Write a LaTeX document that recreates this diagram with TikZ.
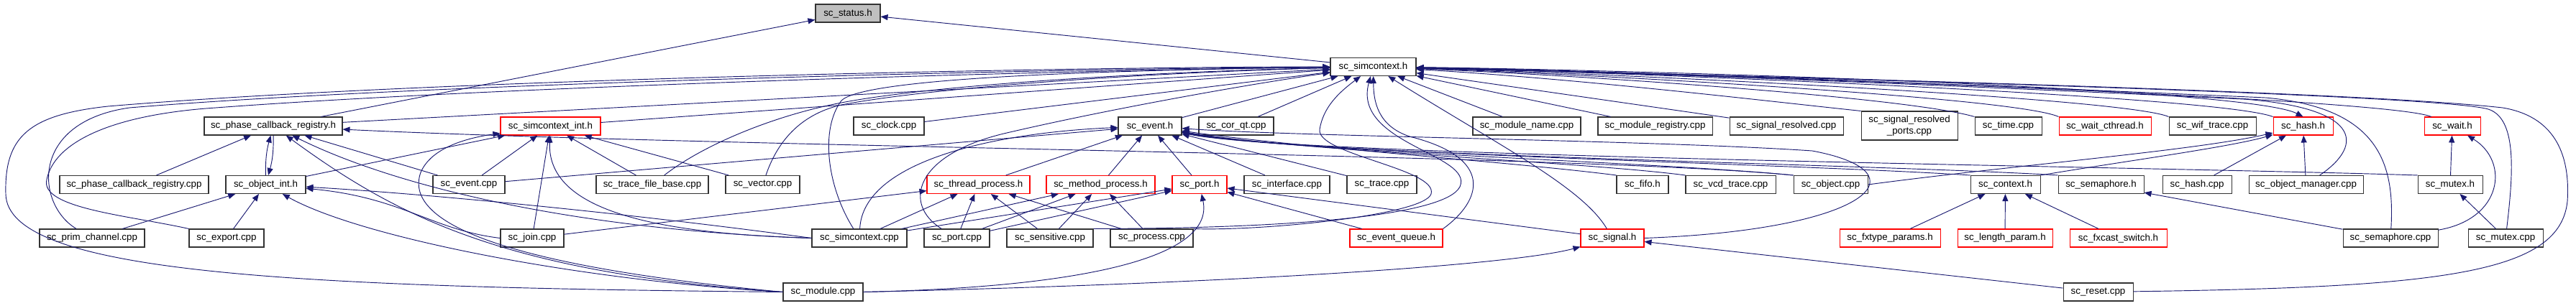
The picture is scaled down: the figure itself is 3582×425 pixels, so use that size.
\documentclass[tikz,border=0pt]{standalone}
\usepackage{fontspec}
\setmainfont{Liberation Sans}
\usepackage{xcolor}
\usepackage{tikz}
\usetikzlibrary{arrows.meta,positioning}
\definecolor{edgeblue}{HTML}{191970}
\definecolor{rootgray}{HTML}{BFBFBF}

\begin{document}
\begin{tikzpicture}[
    x=0.75pt,
    y=-0.75pt,
    file/.style={
        draw=black!80,
        line width=0.8pt,
        fill=white,
        inner sep=0pt,
        minimum height=18.75pt,
        font=\fontsize{10}{11.5}\selectfont
    },
    redfile/.style={file, draw=red},
    rootfile/.style={file, fill=rootgray},
    wd/.style={minimum width=#1*0.75pt},
    inc/.style={draw=edgeblue, line width=0.7pt, -{Triangle[length=7.5pt,width=6pt]}}
]
\useasboundingbox (0,0) rectangle (3582,425);

% root and first level
\node[rootfile, wd=90] (status_h) at (1179,18.5) {sc\_status.h};
\node[file, wd=119] (simcontext_h) at (1909.5,93) {sc\_simcontext.h};

% second row
\node[file, wd=192] (phase_h) at (380,175.5) {sc\_phase\_callback\_registry.h};
\node[redfile, wd=139] (simint_h) at (765.5,175.5) {sc\_simcontext\_int.h};
\node[file, wd=98] (clock_cpp) at (1236,175.5) {sc\_clock.cpp};
\node[file, wd=88] (event_h) at (1599,175.5) {sc\_event.h};
\node[file, wd=104] (corqt_cpp) at (1719,175.5) {sc\_cor\_qt.cpp};
\node[file, wd=150] (modname_cpp) at (2123,175.5) {sc\_module\_name.cpp};
\node[file, wd=159] (modreg_cpp) at (2301.5,175.5) {sc\_module\_registry.cpp};
\node[file, wd=158] (sigres_cpp) at (2484,175.5) {sc\_signal\_resolved.cpp};
\node[file, wd=134, minimum height=30pt, align=center] (sigresports_cpp) at (2655,175)
{sc\_signal\_resolved\\\_ports.cpp};
\node[file, wd=93] (time_cpp) at (2792.5,175.5) {sc\_time.cpp};
\node[redfile, wd=128] (waitcth_h) at (2927,175.5) {sc\_wait\_cthread.h};
\node[file, wd=121] (wif_cpp) at (3076.5,175.5) {sc\_wif\_trace.cpp};
\node[redfile, wd=83] (hash_h) at (3202.5,175.5) {sc\_hash.h};
\node[redfile, wd=78] (wait_h) at (3410,175.5) {sc\_wait.h};

% third row
\node[file, wd=207] (phase_cpp) at (186.5,257) {sc\_phase\_callback\_registry.cpp};
\node[file, wd=111] (objint_h) at (369.5,257) {sc\_object\_int.h};
\node[file, wd=100] (event_cpp) at (652,257) {sc\_event.cpp};
\node[file, wd=156] (tfb_cpp) at (907,257) {sc\_trace\_file\_base.cpp};
\node[file, wd=103] (vector_cpp) at (1060.5,257) {sc\_vector.cpp};
\node[redfile, wd=143] (thread_h) at (1360.5,257) {sc\_thread\_process.h};
\node[redfile, wd=151] (method_h) at (1530.5,257) {sc\_method\_process.h};
\node[redfile, wd=76] (port_h) at (1668,257) {sc\_port.h};
\node[file, wd=119] (interface_cpp) at (1789.5,257) {sc\_interface.cpp};
\node[file, wd=97] (trace_cpp) at (1921.5,257) {sc\_trace.cpp};
\node[file, wd=72] (fifo_h) at (2284,257) {sc\_fifo.h};
\node[file, wd=125] (vcd_cpp) at (2406.5,257) {sc\_vcd\_trace.cpp};
\node[file, wd=103] (object_cpp) at (2545.5,257) {sc\_object.cpp};
\node[file, wd=97] (context_h) at (2788.5,257) {sc\_context.h};
\node[file, wd=119] (semaphore_h) at (2921.5,257) {sc\_semaphore.h};
\node[file, wd=96] (hash_cpp) at (3055,257) {sc\_hash.cpp};
\node[file, wd=159] (objmgr_cpp) at (3206.5,257) {sc\_object\_manager.cpp};
\node[file, wd=90] (mutex_h) at (3407,257) {sc\_mutex.h};

% fourth row
\node[file, wd=146] (primch_cpp) at (128,331.5) {sc\_prim\_channel.cpp};
\node[file, wd=104] (export_cpp) at (315,331.5) {sc\_export.cpp};
\node[file, wd=88] (join_cpp) at (740,331.5) {sc\_join.cpp};
\node[file, wd=132] (simctx_cpp) at (1195,331.5) {sc\_simcontext.cpp};
\node[file, wd=91] (port_cpp) at (1330.5,331.5) {sc\_port.cpp};
\node[file, wd=120] (sensitive_cpp) at (1460,331.5) {sc\_sensitive.cpp};
\node[file, wd=115] (process_cpp) at (1601.5,331.5) {sc\_process.cpp};
\node[redfile, wd=129] (evq_h) at (1941.5,331.5) {sc\_event\_queue.h};
\node[redfile, wd=88] (signal_h) at (2242,331.5) {sc\_signal.h};
\node[redfile, wd=140] (fxtype_h) at (2628,331.5) {sc\_fxtype\_params.h};
\node[redfile, wd=132] (lenparam_h) at (2788,331.5) {sc\_length\_param.h};
\node[redfile, wd=135] (fxcast_h) at (2945.5,331.5) {sc\_fxcast\_switch.h};
\node[file, wd=132] (semaphore_cpp) at (3324,331.5) {sc\_semaphore.cpp};
\node[file, wd=104] (mutex_cpp) at (3484,331.5) {sc\_mutex.cpp};

% bottom row
\node[file, wd=111] (module_cpp) at (1144.5,406.5) {sc\_module.cpp};
\node[file, wd=97] (reset_cpp) at (2917.5,406.5) {sc\_reset.cpp};

% into sc_status.h
\draw[inc] (phase_h) -- (status_h);
\draw[inc] (simcontext_h) -- (status_h);

% into sc_simcontext.h, from the left
\draw[inc] (phase_h) -- (simcontext_h);
\draw[inc] (simint_h) -- (simcontext_h);
\draw[inc] (clock_cpp) -- (simcontext_h);
\draw[inc] (event_h) -- (simcontext_h);
\draw[inc] (corqt_cpp) -- (simcontext_h);
\draw[inc] (tfb_cpp) .. controls (980,200) and (1080,160) .. (1170,143)
    .. controls (1300,118) and (1600,100) .. (simcontext_h);
\draw[inc] (vector_cpp) .. controls (1080,200) and (1110,160) .. (1170,146)
    .. controls (1300,121) and (1600,101) .. (simcontext_h);
\draw[inc] (simctx_cpp) .. controls (1150,260) and (1140,180) .. (1170,140)
    .. controls (1200,110) and (1500,98) .. (simcontext_h);
\draw[inc] (port_cpp) .. controls (1255,285) and (1270,215) .. (1400,185)
    .. controls (1550,150) and (1750,115) .. (simcontext_h);
\draw[inc] (module_cpp.west) .. controls (400,400) and (10,380) .. (8,270)
    .. controls (6,190) and (40,160) .. (150,148)
    .. controls (600,110) and (1500,93) .. (simcontext_h);
\draw[inc] (primch_cpp) .. controls (50,285) and (40,170) .. (180,150)
    .. controls (600,115) and (1500,95) .. (simcontext_h);
\draw[inc] (export_cpp.north west) .. controls (180,300) and (55,290) .. (65,250)
    .. controls (75,200) and (150,160) .. (300,150)
    .. controls (700,120) and (1500,97) .. (simcontext_h);

% into sc_simcontext.h, from below
\draw[inc] (sensitive_cpp.north east) .. controls (1800,318) and (2010,300) .. (2030,260)
    .. controls (2050,215) and (1880,200) .. (simcontext_h);
\draw[inc] (process_cpp.north east) .. controls (1750,322) and (1980,300) .. (1990,270)
    .. controls (2000,235) and (1830,215) .. (1835,180)
    .. controls (1840,150) and (1860,130) .. (simcontext_h);
\draw[inc] (evq_h.north east) .. controls (2060,280) and (2080,220) .. (1960,190)
    .. controls (1915,175) and (1910,140) .. (simcontext_h);
\draw[inc] (signal_h) .. controls (2200,260) and (2080,200) .. (simcontext_h);

% into sc_simcontext.h, from the right
\draw[inc] (modname_cpp) -- (simcontext_h);
\draw[inc] (modreg_cpp) -- (simcontext_h);
\draw[inc] (sigres_cpp) -- (simcontext_h);
\draw[inc] (sigresports_cpp.north west) .. controls (2450,140) and (2200,110) .. (simcontext_h);
\draw[inc] (time_cpp.north west) .. controls (2650,135) and (2200,105) .. (simcontext_h);
\draw[inc] (waitcth_h.north west) .. controls (2800,135) and (2200,103) .. (simcontext_h);
\draw[inc] (wif_cpp.north west) .. controls (2950,135) and (2200,101) .. (simcontext_h);
\draw[inc] (hash_h.north west) .. controls (3080,132) and (2200,99) .. (simcontext_h);
\draw[inc] (simcontext_h) .. controls (2200,96) and (3120,120) .. (hash_h.north);
\draw[inc] (wait_h) .. controls (3330,140) and (2600,110) .. (simcontext_h);
\draw[inc] (objmgr_cpp) .. controls (3290,200) and (3280,150) .. (3120,138)
    .. controls (2700,118) and (2200,98) .. (simcontext_h);
\draw[inc] (semaphore_cpp) .. controls (3330,230) and (3310,150) .. (3150,136)
    .. controls (2700,116) and (2200,97) .. (simcontext_h);
\draw[inc] (mutex_cpp) .. controls (3495,240) and (3500,165) .. (3460,152)
    .. controls (3400,135) and (2800,115) .. (simcontext_h);
\draw[inc] (reset_cpp) .. controls (3400,400) and (3560,380) .. (3570,280)
    .. controls (3575,200) and (3540,160) .. (3480,150)
    .. controls (3300,130) and (2700,112) .. (simcontext_h);

% into sc_phase_callback_registry.h and sc_object_int.h
\draw[inc] (phase_cpp) -- (phase_h);
\draw[inc] (objint_h) to[bend left=8] (phase_h);
\draw[inc] (phase_h) to[bend left=8] (objint_h);
\draw[inc] (event_cpp) -- (phase_h);
\draw[inc] (simctx_cpp.west) .. controls (800,320) and (550,260) .. (phase_h);
\draw[inc] (module_cpp.west) .. controls (700,380) and (550,300) .. (phase_h);
\draw[inc] (object_cpp.north west) .. controls (2200,215) and (1000,205) .. (phase_h);
\draw[inc] (primch_cpp) -- (objint_h);
\draw[inc] (export_cpp) -- (objint_h);
\draw[inc] (module_cpp.west) .. controls (800,390) and (500,330) .. (objint_h);
\draw[inc] (simctx_cpp.west) .. controls (900,300) and (600,270) .. (objint_h);
\draw[inc] (join_cpp.west) .. controls (600,320) and (560,275) .. (objint_h);

% into sc_simcontext_int.h
\draw[inc] (objint_h) -- (simint_h);
\draw[inc] (event_cpp) -- (simint_h);
\draw[inc] (join_cpp) -- (simint_h);
\draw[inc] (tfb_cpp) -- (simint_h);
\draw[inc] (vector_cpp) -- (simint_h);
\draw[inc] (simctx_cpp.west) .. controls (900,325) and (760,290) .. (simint_h);
\draw[inc] (module_cpp.west) .. controls (700,370) and (560,310) .. (585,240)
    .. controls (600,205) and (650,192) .. (simint_h);

% into sc_event.h
\draw[inc] (thread_h) -- (event_h);
\draw[inc] (method_h) -- (event_h);
\draw[inc] (port_h) -- (event_h);
\draw[inc] (interface_cpp) -- (event_h);
\draw[inc] (trace_cpp) -- (event_h);
\draw[inc] (event_cpp) -- (event_h);
\draw[inc] (simctx_cpp) .. controls (1200,225) and (1380,185) .. (event_h);
\draw[inc] (fifo_h.north west) .. controls (2100,225) and (1800,205) .. (event_h);
\draw[inc] (vcd_cpp.north west) .. controls (2200,225) and (1800,210) .. (event_h);
\draw[inc] (object_cpp.north west) .. controls (2300,225) and (1800,212) .. (event_h);
\draw[inc] (context_h.north west) .. controls (2500,228) and (1800,214) .. (event_h);
\draw[inc] (semaphore_h.north west) .. controls (2600,228) and (1800,216) .. (event_h);
\draw[inc] (mutex_h.north west) .. controls (3000,232) and (1800,218) .. (event_h);
\draw[inc] (signal_h.east) .. controls (2600,320) and (2680,240) .. (2520,210)
    .. controls (2300,195) and (1800,190) .. (event_h);

% process headers
\draw[inc] (join_cpp) -- (thread_h);
\draw[inc] (simctx_cpp) -- (thread_h);
\draw[inc] (port_cpp) -- (thread_h);
\draw[inc] (sensitive_cpp) -- (thread_h);
\draw[inc] (process_cpp) -- (thread_h);
\draw[inc] (simctx_cpp) -- (method_h);
\draw[inc] (port_cpp) -- (method_h);
\draw[inc] (sensitive_cpp) -- (method_h);
\draw[inc] (process_cpp) -- (method_h);

% into sc_port.h and sc_signal.h
\draw[inc] (simctx_cpp) -- (port_h);
\draw[inc] (port_cpp) -- (port_h);
\draw[inc] (signal_h) -- (port_h);
\draw[inc] (evq_h) -- (port_h);
\draw[inc] (module_cpp.east) .. controls (1500,400) and (1690,360) .. (port_h);
\draw[inc] (module_cpp.east) .. controls (1700,395) and (2100,370) .. (signal_h);
\draw[inc] (reset_cpp) -- (signal_h);

% right part
\draw[inc] (object_cpp.east) .. controls (2800,230) and (3050,210) .. (hash_h);
\draw[inc] (context_h.north east) .. controls (2950,225) and (3100,205) .. (hash_h);
\draw[inc] (hash_cpp) -- (hash_h);
\draw[inc] (objmgr_cpp) -- (hash_h);
\draw[inc] (fxtype_h) -- (context_h);
\draw[inc] (lenparam_h) -- (context_h);
\draw[inc] (fxcast_h) -- (context_h);
\draw[inc] (semaphore_cpp) -- (semaphore_h);
\draw[inc] (semaphore_cpp) .. controls (3480,305) and (3490,225) .. (wait_h);
\draw[inc] (mutex_h) -- (wait_h);
\draw[inc] (mutex_cpp) -- (mutex_h);

\end{tikzpicture}
\end{document}
